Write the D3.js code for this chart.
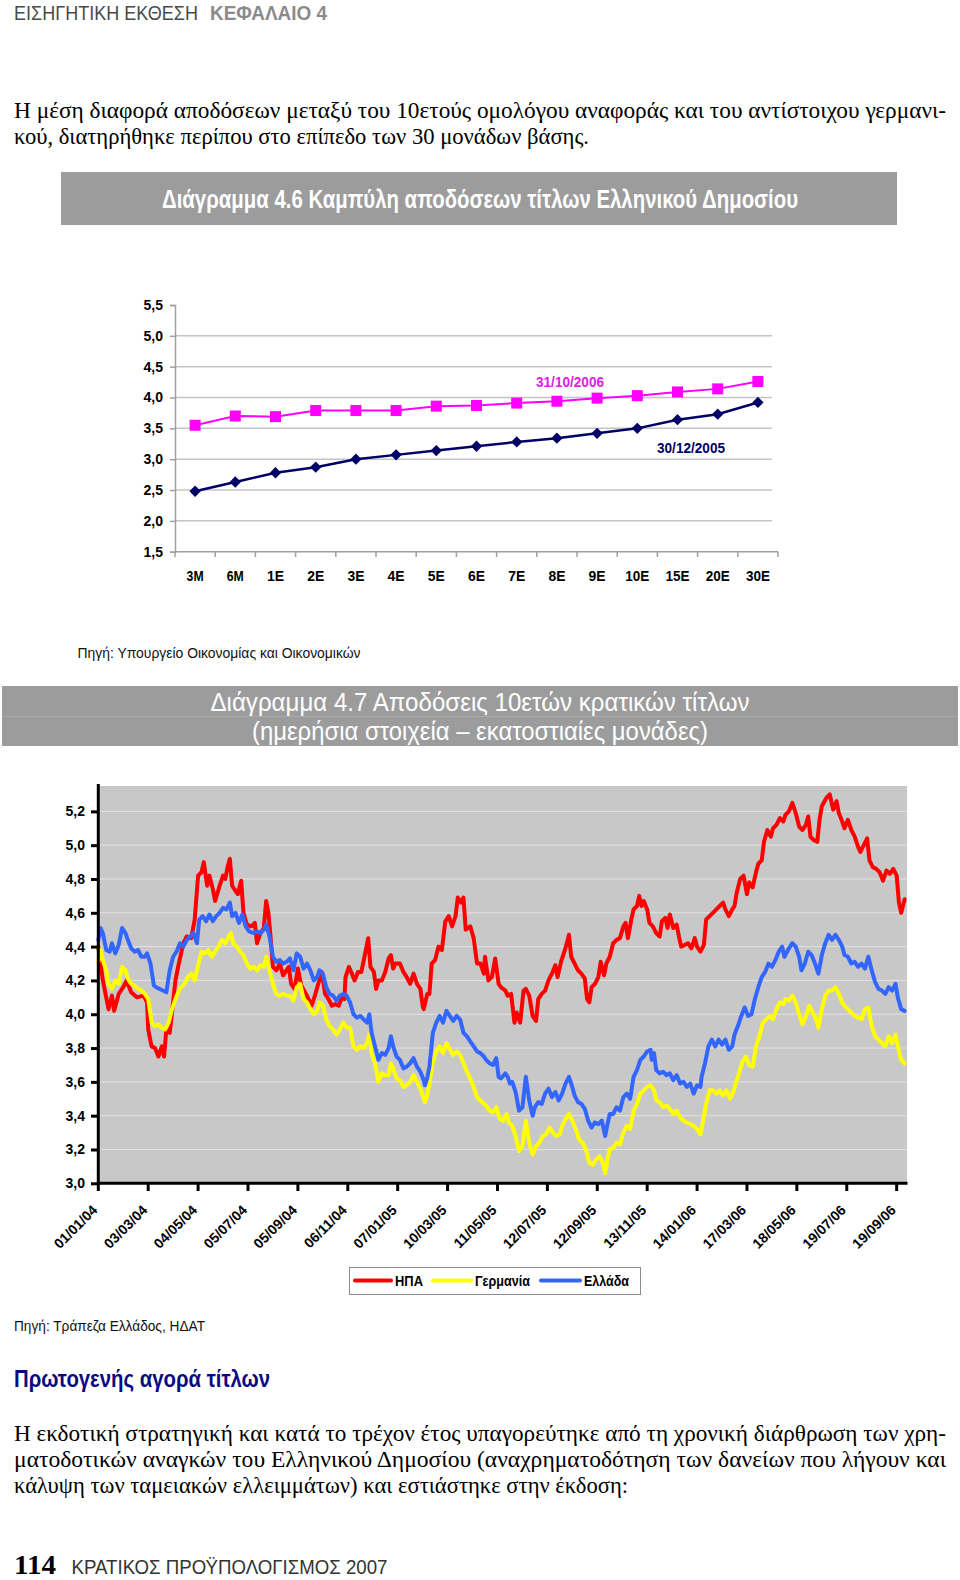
<!DOCTYPE html>
<html><head><meta charset="utf-8">
<script src="https://cdn.jsdelivr.net/npm/d3@7"></script>
<style>body{margin:0;background:#fff}svg{display:block}</style>
</head><body><svg id="c" width="960" height="1580"></svg>
<script>
// ---------- DATA ----------
const curveCats = ["3M","6M","1E","2E","3E","4E","5E","6E","7E","8E","9E","10E","15E","20E","30E"];
const curve2006 = [3.55,3.70,3.69,3.79,3.79,3.79,3.86,3.87,3.91,3.94,3.99,4.03,4.09,4.14,4.26];
const curve2005 = [2.48,2.63,2.78,2.87,3.00,3.07,3.14,3.21,3.28,3.34,3.42,3.50,3.64,3.73,3.92];
const curveTicks = [1.5,2.0,2.5,3.0,3.5,4.0,4.5,5.0,5.5];
const curveSeriesNames = ["31/10/2006","30/12/2005"];

const dateLabels = ["01/01/04","03/03/04","04/05/04","05/07/04","05/09/04","06/11/04","07/01/05","10/03/05","11/05/05","12/07/05","12/09/05","13/11/05","14/01/06","17/03/06","18/05/06","19/07/06","19/09/06"];
const labelStep = 44;      // trading days between date labels
const lastDay = 711;       // last trading-day index shown
const yieldTicks = [3.0,3.2,3.4,3.6,3.8,4.0,4.2,4.4,4.6,4.8,5.0,5.2];
const legendNames = ["ΗΠΑ","Γερμανία","Ελλάδα"];

// [trading day index, yield %]
const usa = [[0,4.40],[4,4.20],[9,4.03],[12,4.11],[14,4.02],[18,4.12],[22,4.16],[25,4.20],[29,4.13],[34,4.10],[40,4.11],[43,4.07],[44,3.91],[47,3.81],[50,3.80],[53,3.75],[56,3.81],[58,3.75],[60,3.91],[63,3.89],[65,4.01],[68,4.20],[71,4.30],[75,4.42],[78,4.46],[82,4.45],[85,4.56],[88,4.82],[91,4.84],[93,4.90],[96,4.76],[98,4.82],[101,4.74],[103,4.67],[107,4.76],[110,4.82],[112,4.80],[114,4.87],[116,4.92],[118,4.76],[121,4.73],[123,4.71],[126,4.79],[128,4.60],[131,4.53],[135,4.52],[138,4.54],[140,4.42],[143,4.48],[146,4.51],[148,4.67],[150,4.60],[152,4.45],[154,4.28],[157,4.26],[160,4.30],[163,4.23],[168,4.28],[170,4.18],[173,4.15],[176,4.27],[179,4.17],[184,4.11],[188,4.05],[191,4.11],[194,4.18],[197,4.25],[200,4.12],[203,4.09],[206,4.05],[209,4.06],[212,4.05],[215,4.10],[217,4.09],[218,4.22],[221,4.28],[223,4.25],[226,4.20],[229,4.25],[232,4.25],[235,4.35],[238,4.45],[240,4.28],[243,4.25],[245,4.15],[247,4.20],[250,4.20],[253,4.25],[256,4.33],[258,4.35],[260,4.27],[262,4.30],[266,4.30],[269,4.25],[272,4.22],[275,4.18],[278,4.24],[281,4.18],[284,4.15],[286,4.05],[287,4.03],[290,4.12],[292,4.12],[294,4.30],[297,4.32],[300,4.40],[303,4.38],[306,4.55],[309,4.58],[312,4.52],[315,4.58],[317,4.69],[320,4.66],[322,4.69],[324,4.50],[328,4.52],[331,4.45],[334,4.30],[337,4.30],[340,4.24],[341,4.34],[344,4.20],[347,4.22],[350,4.33],[353,4.18],[355,4.16],[359,4.14],[361,4.11],[364,4.12],[367,3.95],[369,4.01],[372,3.95],[375,4.14],[377,4.15],[380,4.11],[383,3.99],[386,3.96],[388,4.09],[391,4.12],[394,4.14],[397,4.20],[400,4.24],[403,4.29],[405,4.22],[408,4.31],[411,4.37],[414,4.44],[415,4.47],[417,4.34],[420,4.30],[423,4.26],[426,4.24],[429,4.21],[431,4.09],[433,4.07],[435,4.16],[438,4.18],[441,4.22],[443,4.31],[446,4.23],[448,4.30],[451,4.34],[454,4.42],[457,4.44],[460,4.45],[463,4.52],[465,4.54],[467,4.45],[470,4.56],[472,4.62],[475,4.64],[477,4.70],[479,4.64],[481,4.67],[484,4.62],[486,4.54],[489,4.52],[492,4.48],[495,4.46],[497,4.55],[500,4.57],[502,4.51],[504,4.59],[507,4.51],[510,4.53],[512,4.46],[514,4.40],[517,4.41],[520,4.42],[523,4.39],[526,4.45],[528,4.40],[531,4.37],[534,4.41],[536,4.56],[539,4.58],[542,4.60],[545,4.62],[548,4.64],[551,4.66],[553,4.62],[556,4.58],[559,4.62],[561,4.64],[563,4.72],[566,4.80],[569,4.82],[572,4.71],[574,4.78],[577,4.75],[580,4.84],[582,4.89],[585,4.91],[587,5.02],[590,5.09],[593,5.05],[595,5.10],[598,5.12],[601,5.16],[604,5.14],[606,5.18],[609,5.20],[612,5.25],[615,5.19],[618,5.11],[621,5.09],[624,5.12],[626,5.17],[628,5.05],[631,5.03],[634,5.02],[636,5.15],[638,5.23],[642,5.28],[645,5.30],[648,5.21],[651,5.26],[653,5.19],[656,5.14],[658,5.10],[661,5.15],[664,5.09],[667,5.05],[670,4.99],[672,4.96],[675,5.00],[678,5.04],[680,4.91],[683,4.87],[686,4.86],[689,4.84],[692,4.79],[695,4.85],[698,4.83],[701,4.86],[704,4.82],[706,4.66],[708,4.60],[711,4.68]];

const germany = [[0,4.31],[2,4.38],[4,4.32],[7,4.26],[9,4.18],[12,4.15],[15,4.20],[18,4.18],[21,4.28],[24,4.26],[26,4.21],[29,4.18],[32,4.17],[35,4.15],[38,4.14],[41,4.12],[44,4.09],[47,3.95],[50,3.93],[53,3.94],[56,3.92],[59,3.91],[62,3.95],[65,4.03],[68,4.09],[71,4.14],[73,4.16],[76,4.18],[79,4.22],[82,4.24],[85,4.20],[88,4.29],[91,4.37],[94,4.36],[97,4.38],[100,4.34],[103,4.37],[106,4.40],[109,4.44],[112,4.42],[115,4.46],[117,4.48],[119,4.42],[122,4.40],[125,4.37],[128,4.35],[131,4.30],[134,4.27],[137,4.28],[140,4.26],[143,4.29],[146,4.28],[148,4.34],[151,4.26],[154,4.18],[157,4.12],[160,4.11],[163,4.12],[166,4.11],[169,4.11],[172,4.08],[175,4.16],[178,4.18],[181,4.09],[184,4.07],[187,4.03],[190,4.00],[193,4.02],[195,4.07],[198,4.05],[201,3.97],[204,3.93],[207,3.91],[210,3.88],[213,3.91],[216,3.95],[219,3.92],[222,3.92],[225,3.81],[228,3.79],[231,3.81],[234,3.80],[237,3.83],[239,3.88],[241,3.77],[244,3.71],[247,3.60],[250,3.65],[253,3.64],[256,3.64],[258,3.71],[260,3.68],[263,3.62],[266,3.61],[269,3.57],[272,3.58],[275,3.60],[278,3.64],[281,3.60],[284,3.56],[287,3.50],[288,3.48],[290,3.52],[292,3.59],[295,3.72],[298,3.78],[301,3.81],[304,3.77],[307,3.83],[310,3.79],[313,3.76],[316,3.78],[319,3.76],[322,3.71],[325,3.66],[328,3.62],[331,3.57],[334,3.51],[337,3.49],[340,3.47],[342,3.46],[345,3.43],[348,3.42],[351,3.45],[354,3.38],[357,3.37],[360,3.41],[362,3.36],[365,3.34],[368,3.28],[371,3.19],[374,3.22],[377,3.37],[380,3.24],[383,3.17],[386,3.22],[389,3.24],[392,3.28],[395,3.29],[398,3.33],[401,3.30],[404,3.28],[407,3.29],[409,3.34],[412,3.38],[415,3.41],[418,3.37],[421,3.32],[424,3.26],[427,3.24],[430,3.20],[433,3.12],[436,3.11],[439,3.14],[442,3.16],[445,3.12],[447,3.06],[449,3.14],[451,3.20],[454,3.21],[457,3.24],[460,3.23],[463,3.30],[466,3.34],[469,3.32],[472,3.43],[475,3.47],[478,3.53],[481,3.55],[484,3.57],[487,3.58],[490,3.55],[492,3.49],[495,3.48],[498,3.45],[501,3.46],[504,3.44],[507,3.41],[510,3.43],[513,3.39],[516,3.37],[519,3.36],[522,3.35],[525,3.34],[528,3.32],[531,3.29],[533,3.36],[536,3.47],[539,3.55],[542,3.55],[545,3.53],[548,3.55],[551,3.52],[554,3.55],[557,3.50],[560,3.54],[562,3.59],[565,3.65],[568,3.72],[571,3.75],[574,3.70],[577,3.69],[580,3.81],[583,3.87],[586,3.95],[589,3.97],[592,3.99],[595,3.97],[598,4.03],[601,4.07],[604,4.06],[606,4.09],[609,4.08],[612,4.11],[615,4.07],[618,4.00],[621,3.94],[624,3.99],[627,4.05],[630,4.01],[633,3.97],[635,3.92],[638,4.03],[641,4.11],[644,4.14],[647,4.14],[650,4.16],[653,4.12],[656,4.07],[658,4.05],[661,4.03],[664,4.01],[667,3.99],[670,3.98],[673,3.97],[676,4.03],[679,4.04],[682,3.93],[685,3.87],[688,3.85],[691,3.83],[694,3.81],[697,3.87],[700,3.83],[703,3.88],[705,3.81],[708,3.73],[711,3.71]];

const greece = [[0,4.44],[2,4.51],[4,4.48],[7,4.38],[10,4.37],[12,4.42],[15,4.36],[18,4.41],[21,4.51],[24,4.48],[26,4.44],[29,4.39],[32,4.37],[35,4.38],[38,4.34],[41,4.34],[43,4.36],[46,4.30],[49,4.17],[51,4.16],[54,4.15],[57,4.14],[60,4.13],[63,4.26],[66,4.34],[69,4.37],[72,4.42],[75,4.40],[78,4.44],[81,4.46],[84,4.48],[87,4.42],[89,4.56],[92,4.58],[95,4.55],[98,4.59],[101,4.55],[104,4.58],[107,4.60],[110,4.63],[113,4.62],[116,4.66],[118,4.58],[121,4.60],[124,4.54],[127,4.59],[130,4.52],[133,4.49],[137,4.48],[140,4.49],[143,4.48],[146,4.50],[148,4.53],[151,4.46],[154,4.34],[157,4.31],[160,4.32],[163,4.30],[166,4.31],[169,4.33],[172,4.26],[175,4.36],[178,4.34],[181,4.27],[184,4.30],[187,4.26],[190,4.20],[193,4.22],[195,4.26],[198,4.24],[201,4.16],[204,4.12],[207,4.11],[210,4.08],[213,4.11],[216,4.12],[219,4.11],[222,4.07],[225,4.00],[228,3.98],[231,3.99],[234,3.97],[237,3.95],[239,4.00],[241,3.89],[244,3.81],[247,3.73],[250,3.77],[253,3.76],[256,3.80],[258,3.87],[260,3.81],[263,3.75],[266,3.73],[269,3.68],[272,3.69],[275,3.71],[278,3.74],[281,3.69],[284,3.66],[287,3.61],[288,3.58],[290,3.62],[292,3.69],[295,3.89],[298,3.95],[301,3.99],[304,3.95],[307,4.02],[310,3.99],[313,3.96],[316,3.99],[319,3.97],[322,3.89],[325,3.87],[328,3.84],[331,3.81],[334,3.78],[337,3.77],[340,3.75],[342,3.73],[345,3.71],[348,3.70],[351,3.74],[353,3.63],[355,3.62],[359,3.65],[361,3.63],[363,3.59],[365,3.60],[368,3.54],[371,3.43],[374,3.45],[377,3.63],[380,3.49],[383,3.40],[385,3.45],[388,3.48],[391,3.47],[394,3.53],[397,3.56],[400,3.51],[403,3.54],[406,3.49],[409,3.53],[412,3.59],[415,3.63],[417,3.59],[420,3.52],[423,3.48],[426,3.47],[429,3.44],[432,3.37],[435,3.33],[438,3.36],[441,3.35],[444,3.37],[447,3.28],[449,3.35],[451,3.41],[454,3.41],[457,3.45],[460,3.43],[463,3.51],[466,3.53],[469,3.50],[472,3.63],[475,3.67],[478,3.73],[481,3.75],[484,3.78],[487,3.79],[488,3.73],[490,3.77],[492,3.67],[495,3.65],[498,3.66],[501,3.64],[504,3.65],[507,3.61],[510,3.64],[513,3.59],[516,3.60],[519,3.57],[522,3.59],[525,3.53],[528,3.58],[531,3.57],[532,3.63],[535,3.71],[538,3.81],[541,3.85],[544,3.81],[547,3.85],[550,3.82],[553,3.85],[556,3.79],[559,3.81],[561,3.88],[564,3.93],[567,3.99],[570,4.04],[573,3.99],[576,4.00],[579,4.09],[582,4.16],[585,4.22],[588,4.25],[591,4.30],[594,4.28],[597,4.32],[600,4.37],[603,4.40],[605,4.34],[609,4.39],[612,4.42],[615,4.40],[618,4.34],[620,4.26],[623,4.30],[626,4.37],[629,4.35],[632,4.30],[635,4.24],[638,4.35],[641,4.42],[644,4.47],[647,4.44],[650,4.47],[653,4.44],[656,4.40],[658,4.35],[661,4.34],[664,4.30],[667,4.31],[670,4.28],[673,4.30],[676,4.27],[679,4.34],[682,4.26],[685,4.19],[688,4.15],[691,4.14],[694,4.12],[697,4.16],[700,4.14],[703,4.18],[705,4.10],[708,4.03],[711,4.02]];

// ---------- DRAWING ----------
const svg = d3.select("#c");
const NARROW = '"Liberation Sans Narrow","Arial Narrow","Liberation Sans",Arial,sans-serif';
const SANS = '"Liberation Sans",Arial,sans-serif';
const SERIF = '"Liberation Serif","Times New Roman",serif';
const fmt1 = d => d.toFixed(1).replace(".", ",");

function text(x, y, s, o) {
  const t = svg.append("text").attr("x", x).attr("y", y).text(s)
    .attr("font-family", o.family || NARROW)
    .attr("font-size", o.size || 14)
    .attr("font-weight", o.weight || "normal")
    .attr("fill", o.fill || "#000")
    .attr("text-anchor", o.anchor || "start");
  if (o.len) t.attr("textLength", o.len).attr("lengthAdjust", "spacingAndGlyphs");
  return t;
}

// page header
text(14, 19.5, "ΕΙΣΗΓΗΤΙΚΗ ΕΚΘΕΣΗ", {size: 20, fill: "#4a4a4a", len: 184});
text(210, 19.5, "ΚΕΦΑΛΑΙΟ 4", {size: 20, weight: "bold", fill: "#8a8a8a", len: 117});

// paragraph 1
text(14, 118, "Η μέση διαφορά αποδόσεων μεταξύ του 10ετούς ομολόγου αναφοράς και του αντίστοιχου γερμανι-", {family: SERIF, size: 23, len: 932});
text(14, 144, "κού, διατηρήθηκε περίπου στο επίπεδο των 30 μονάδων βάσης.", {family: SERIF, size: 23, len: 575});

// ---- Chart 4.6 ----
svg.append("rect").attr("x", 61).attr("y", 172).attr("width", 836).attr("height", 53).attr("fill", "#9c9c9c");
text(480, 208, "Διάγραμμα 4.6  Καμπύλη αποδόσεων τίτλων Ελληνικού Δημοσίου", {size: 25, weight: "bold", fill: "#fff", anchor: "middle", len: 636});

const x1 = d3.scaleBand().domain(curveCats).range([175, 778]);
const y1 = d3.scaleLinear().domain([1.5, 5.5]).range([551.7, 305]);
const g1 = svg.append("g");

g1.selectAll("line.grid").data(curveTicks.filter(v => v > 1.5 && v < 5.5)).join("line")
  .attr("x1", 175).attr("x2", 772).attr("y1", d => y1(d)).attr("y2", d => y1(d))
  .attr("stroke", "#c4c4c4").attr("stroke-width", 1.5);

const ya1 = g1.append("g").attr("transform", "translate(175,0)")
  .call(d3.axisLeft(y1).tickValues(curveTicks).tickSize(5).tickPadding(7).tickFormat(fmt1));
ya1.select(".domain").attr("stroke", "#a0a0a0").attr("stroke-width", 1.5);
ya1.selectAll(".tick line").attr("stroke", "#a0a0a0").attr("stroke-width", 1.5);
ya1.selectAll("text").attr("font-family", SANS).attr("font-size", 14).attr("font-weight", "bold").attr("fill", "#000");

const xa1 = g1.append("g").attr("transform", "translate(0,551.7)")
  .call(d3.axisBottom(x1).tickSize(0).tickPadding(19));
xa1.select(".domain").remove();
xa1.selectAll("text").attr("font-family", SANS).attr("font-size", 14).attr("font-weight", "bold").attr("fill", "#000").attr("textLength", function(){ return this.textContent.length > 2 ? 24 : 17; }).attr("lengthAdjust","spacingAndGlyphs");
g1.append("line").attr("x1", 175).attr("x2", 778).attr("y1", 551.7).attr("y2", 551.7).attr("stroke", "#a0a0a0").attr("stroke-width", 1.5);
g1.selectAll("line.xt").data(curveCats.concat(["end"])).join("line")
  .attr("x1", (d, i) => x1.range()[0] + i * x1.step()).attr("x2", (d, i) => x1.range()[0] + i * x1.step())
  .attr("y1", 551.7).attr("y2", 557).attr("stroke", "#a0a0a0").attr("stroke-width", 1.5);

const lineC = d3.line().x((d, i) => x1(curveCats[i]) + x1.bandwidth() / 2).y(d => y1(d));
g1.append("path").attr("d", lineC(curve2006)).attr("fill", "none").attr("stroke", "#ff00ff").attr("stroke-width", 2);
g1.append("path").attr("d", lineC(curve2005)).attr("fill", "none").attr("stroke", "#000066").attr("stroke-width", 2.5);
g1.selectAll("rect.sq").data(curve2006).join("rect")
  .attr("x", (d, i) => x1(curveCats[i]) + x1.bandwidth() / 2 - 5.5).attr("y", d => y1(d) - 5.5)
  .attr("width", 11).attr("height", 11).attr("fill", "#ff00ff");
g1.selectAll("path.dm").data(curve2005).join("path")
  .attr("d", d3.symbol(d3.symbolSquare, 64))
  .attr("transform", (d, i) => `translate(${x1(curveCats[i]) + x1.bandwidth() / 2},${y1(d)}) rotate(45)`)
  .attr("fill", "#000066");
text(570, 387, curveSeriesNames[0], {family: SANS, size: 14, weight: "bold", fill: "#e020e0", anchor: "middle", len: 68});
text(691, 453, curveSeriesNames[1], {family: SANS, size: 14, weight: "bold", fill: "#000066", anchor: "middle", len: 68});

text(77.5, 658, "Πηγή:  Υπουργείο Οικονομίας και Οικονομικών", {size: 14, fill: "#111", len: 283});

// ---- Chart 4.7 ----
svg.append("rect").attr("x", 2).attr("y", 686).attr("width", 956).attr("height", 60).attr("fill", "#9c9c9c");
svg.append("line").attr("x1", 2).attr("x2", 958).attr("y1", 716.5).attr("y2", 716.5).attr("stroke", "#a9a9a9").attr("stroke-width", 1);
text(480, 711, "Διάγραμμα 4.7  Αποδόσεις 10ετών κρατικών τίτλων", {size: 26, fill: "#fff", anchor: "middle", len: 539});
text(480, 740, "(ημερήσια στοιχεία – εκατοστιαίες μονάδες)", {size: 26, fill: "#fff", anchor: "middle", len: 456});

const x2 = d3.scaleLinear().domain([0, lastDay]).range([98.3, 904.6]);
const y2 = d3.scaleLinear().domain([3.0, 5.35]).range([1183.3, 786]);
const g2 = svg.append("g");
g2.append("rect").attr("x", 98.3).attr("y", 786).attr("width", 907 - 98.3).attr("height", 1183.3 - 786).attr("fill", "#c8c8c8");
g2.selectAll("line.grid").data(yieldTicks.filter(v => v > 3)).join("line")
  .attr("x1", 98.3).attr("x2", 907).attr("y1", d => y2(d)).attr("y2", d => y2(d))
  .attr("stroke", "#e2e2e2").attr("stroke-width", 1);

const series = [[usa, "#ff0000"], [germany, "#ffff00"], [greece, "#3366ff"]];
const line2 = d3.line().x(d => x2(d[0])).y(d => y2(d[1]));
series.forEach(([data, col]) => {
  g2.append("path").attr("d", line2(data)).attr("fill", "none").attr("stroke", col)
    .attr("stroke-width", 4).attr("stroke-linejoin", "round").attr("stroke-linecap", "round");
});

// axes
const ya2 = g2.append("g").attr("transform", "translate(97,0)")
  .call(d3.axisLeft(y2).tickValues(yieldTicks).tickSize(6).tickPadding(6).tickFormat(fmt1));
ya2.select(".domain").remove();
ya2.selectAll(".tick line").attr("stroke", "#000").attr("stroke-width", 3);
ya2.selectAll("text").attr("font-family", SANS).attr("font-size", 14).attr("font-weight", "bold").attr("fill", "#000");
g2.append("line").attr("x1", 98.3).attr("x2", 98.3).attr("y1", 784).attr("y2", 1184.8).attr("stroke", "#000").attr("stroke-width", 3);
g2.append("line").attr("x1", 96.8).attr("x2", 907.5).attr("y1", 1183.3).attr("y2", 1183.3).attr("stroke", "#000").attr("stroke-width", 3);

const tickDays = dateLabels.map((d, i) => i * labelStep);
g2.selectAll("line.xt").data(tickDays).join("line")
  .attr("x1", d => x2(d)).attr("x2", d => x2(d)).attr("y1", 1183).attr("y2", 1191)
  .attr("stroke", "#000").attr("stroke-width", 3);
g2.selectAll("text.xl").data(dateLabels).join("text")
  .attr("transform", (d, i) => `translate(${x2(tickDays[i])},${1211}) rotate(-45)`)
  .attr("text-anchor", "end")
  .attr("font-family", SANS).attr("font-size", 14).attr("font-weight", "bold").attr("fill", "#000")
  .text(d => d);

// legend
const lg = svg.append("g");
lg.append("rect").attr("x", 349.5).attr("y", 1267.5).attr("width", 291).attr("height", 27).attr("fill", "#fff").attr("stroke", "#8c8c8c").attr("stroke-width", 1);
const legX = [[355, 391, 395, 28], [433, 471, 475, 55], [541, 580, 584, 45]];
series.forEach(([, col], i) => {
  lg.append("line").attr("x1", legX[i][0]).attr("x2", legX[i][1]).attr("y1", 1280.5).attr("y2", 1280.5)
    .attr("stroke", col).attr("stroke-width", 4).attr("stroke-linecap", "round");
  text(legX[i][2], 1286, legendNames[i], {family: SANS, size: 15, weight: "bold", len: legX[i][3]});
});

text(14, 1331, "Πηγή: Τράπεζα Ελλάδος, ΗΔΑΤ", {size: 14, fill: "#111", len: 191});

// heading and paragraph
text(14, 1386.5, "Πρωτογενής αγορά τίτλων", {size: 23, weight: "bold", fill: "#0a0a80", len: 256});
text(14, 1441, "Η εκδοτική στρατηγική και κατά το τρέχον έτος υπαγορεύτηκε από τη χρονική διάρθρωση των χρη-", {family: SERIF, size: 23, len: 932});
text(14, 1467, "ματοδοτικών αναγκών του Ελληνικού Δημοσίου (αναχρηματοδότηση των δανείων που λήγουν και", {family: SERIF, size: 23, len: 932});
text(14, 1493, "κάλυψη των ταμειακών ελλειμμάτων) και εστιάστηκε στην έκδοση:", {family: SERIF, size: 23, len: 614});

// footer
text(14, 1574, "114", {family: SERIF, size: 27, weight: "bold", len: 42});
text(71.5, 1574, "ΚΡΑΤΙΚΟΣ ΠΡΟΫΠΟΛΟΓΙΣΜΟΣ 2007", {size: 21, fill: "#333", len: 316});
</script></body></html>
